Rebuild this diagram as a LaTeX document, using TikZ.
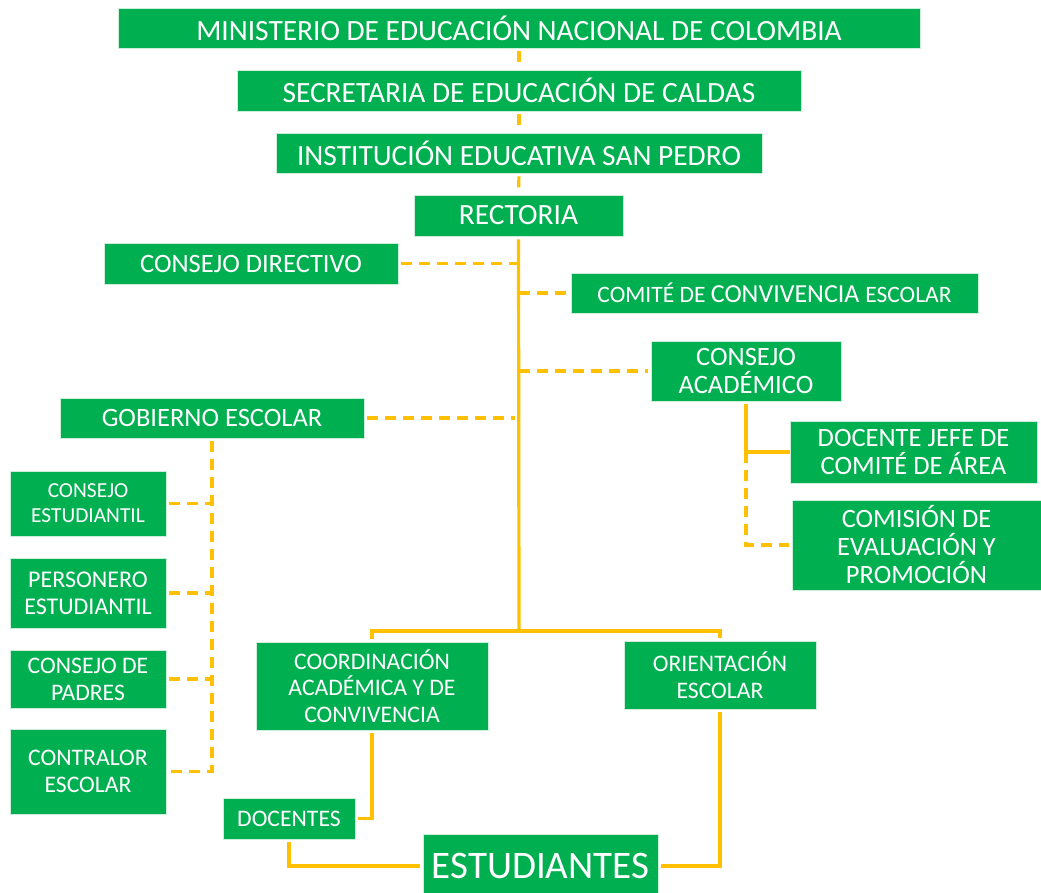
\documentclass[tikz,border=0pt]{standalone}
\usepackage{fontspec}
\setmainfont{Carlito}
\definecolor{boxgreen}{HTML}{00B050}
\definecolor{lineorange}{HTML}{FFC000}
\tikzset{
  box/.style={fill=boxgreen, draw=white!80!boxgreen, line width=0.8pt, text=white, inner sep=0pt, align=center},
  sline/.style={draw=lineorange, line width=3.2pt},
  dline/.style={draw=lineorange, line width=3.2pt, dash pattern=on 11pt off 7pt},
  gapS/.style={shorten <=3pt},
  gapE/.style={shorten >=3pt},
}
\newcommand{\fs}[1]{\fontsize{#1}{#1}\selectfont}
\begin{document}
\begin{tikzpicture}[x=1pt,y=-1pt]
\useasboundingbox (0,0) rectangle (1041,893);
% top chain
\node[box, minimum width=802, minimum height=40, font=\fs{29.4}] (min) at (519,28) {MINISTERIO DE EDUCACIÓN NACIONAL DE COLOMBIA};
\node[box, minimum width=564, minimum height=41, font=\fs{29.4}] (sec) at (519,90.5) {SECRETARIA DE EDUCACIÓN DE CALDAS};
\node[box, minimum width=486, minimum height=40, font=\fs{29.4}] (inst) at (519,153) {INSTITUCIÓN EDUCATIVA SAN PEDRO};
\node[box, minimum width=209, minimum height=41, font=\fs{29.4}] (rect) at (518.5,215.5) {RECTORIA};
% side boards
\node[box, minimum width=294, minimum height=41, font=\fs{26.5}] (dir) at (251,263.5) {CONSEJO DIRECTIVO};
\node[box, minimum width=407, minimum height=40] (com) at (774.5,293) {\fs{23.5}COMITÉ DE \fs{26}CONVIVENCIA \fs{23.5}ESCOLAR};
\node[box, minimum width=190, minimum height=60, font={\fontsize{26.5}{28}\selectfont}] (acad) at (746,371) {CONSEJO\\ACADÉMICO};
\node[box, minimum width=304, minimum height=40, font=\fs{26.5}] (gob) at (212,418) {GOBIERNO ESCOLAR};
\node[box, minimum width=247, minimum height=62, font={\fontsize{26.5}{28}\selectfont}] (jefe) at (913.5,452) {DOCENTE JEFE DE\\COMITÉ DE ÁREA};
\node[box, minimum width=249, minimum height=90, font={\fontsize{26.5}{28}\selectfont}] (comis) at (916.5,545) {COMISIÓN DE\\EVALUACIÓN Y\\PROMOCIÓN};
% gobierno children
\node[box, minimum width=156, minimum height=65, font={\fontsize{21.4}{25}\selectfont}] (cest) at (88,503.5) {CONSEJO\\ESTUDIANTIL};
\node[box, minimum width=156, minimum height=70, font={\fontsize{24}{27}\selectfont}] (pers) at (88,593) {PERSONERO\\ESTUDIANTIL};
\node[box, minimum width=156, minimum height=58, font={\fontsize{23.7}{27}\selectfont}] (padr) at (88,679) {CONSEJO DE\\PADRES};
\node[box, minimum width=156, minimum height=85, font={\fontsize{23.7}{27}\selectfont}] (contr) at (88,771.5) {CONTRALOR\\ESCOLAR};
% lower
\node[box, minimum width=232, minimum height=88, font={\fontsize{23.7}{26.5}\selectfont}] (coord) at (372,686) {COORDINACIÓN\\ACADÉMICA Y DE\\CONVIVENCIA};
\node[box, minimum width=192, minimum height=68, font={\fontsize{23.7}{27}\selectfont}] (orient) at (720,675) {ORIENTACIÓN\\ESCOLAR};
\node[box, minimum width=132, minimum height=41, font=\fs{23.7}] (doc) at (289,818.5) {DOCENTES};
\node[box, minimum width=235, minimum height=64, font=\fs{39}] (est) at (540.5,866) {ESTUDIANTES};
\coordinate (j1) at (519,631);
% connectors
\draw[dline, gapS, gapE] (min.south) -- (sec.north);
\draw[dline, gapS, gapE] (sec.south) -- (inst.north);
\draw[dline, gapS, gapE] (inst.south) -- (rect.north);
\draw[sline, gapS] (rect.south) -- (j1);
\draw[sline, gapS, gapE] (coord.north) |- (j1) -| (orient.north);
\draw[dline, gapS] (dir.east) -- (rect.south |- dir.east);
\draw[dline, gapE] (rect.south |- com.west) -- (com.west);
\draw[dline, gapE] (rect.south |- acad.west) -- (acad.west);
\draw[dline, gapS] (gob.east) -- ([xshift=-4pt]rect.south |- gob.east);
\draw[sline, gapS] (acad.south) |- (jefe.west);
\draw[dline, gapE] (acad.south |- jefe.west) |- (comis.west);
\draw[dline, gapS] (gob.south) |- (contr.east);
\draw[dline, gapS] (cest.east) -- (gob.south |- cest.east);
\draw[dline, gapS] (pers.east) -- (gob.south |- pers.east);
\draw[dline, gapS] (padr.east) -- (gob.south |- padr.east);
\draw[sline, gapS, gapE] (coord.south) |- (doc.east);
\draw[sline, gapS, gapE] (doc.south) |- (est.west);
\draw[sline, gapS, gapE] (orient.south) |- (est.east);
\end{tikzpicture}
\end{document}
